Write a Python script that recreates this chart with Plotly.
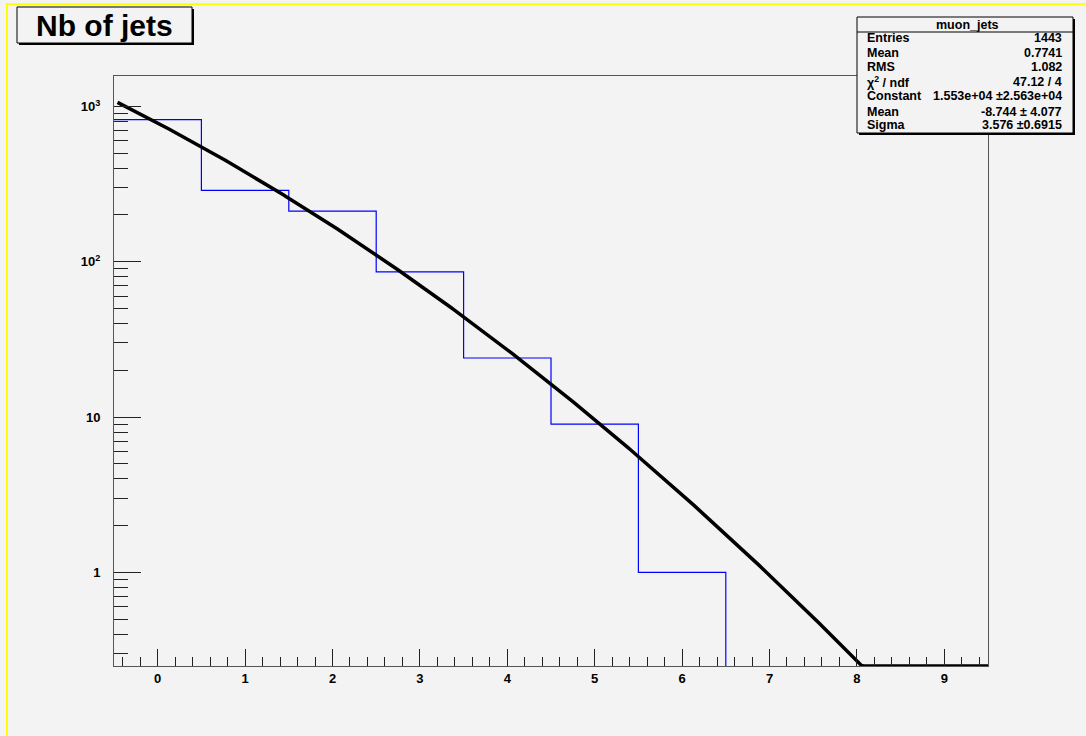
import numpy as np
import plotly.graph_objects as go

# ---- histogram contents (muon_jets) ----
bin_edges = [-0.5, 0.5, 1.5, 2.5, 3.5, 4.5, 5.5, 6.5, 7.5, 8.5, 9.5]
bin_counts = [823, 288, 212, 86, 24, 9, 1, 0, 0, 0]

# ---- gaussian fit parameters ----
fit_constant = 1.553e4
fit_mean = -8.744
fit_sigma = 3.576

# ---- statistics box ----
stats_title = "muon_jets"
stats_labels = ["Entries", "Mean", "RMS", "χ<sup>2</sup> / ndf", "Constant", "Mean", "Sigma"]
stats_values = ["1443", "0.7741", "1.082", "47.12 / 4", "1.553e+04 ±2.563e+04",
                "-8.744 ± 4.077", "3.576 ±0.6915"]

# ---- axes ----
x_range = [-0.5, 9.5]
x_major_ticks = [0, 1, 2, 3, 4, 5, 6, 7, 8, 9]
y_log_range = [-0.603, 3.196]
y_major_ticks = [1, 10, 100, 1000]
y_major_text = ["1", "10", "10<sup>2</sup>", "10<sup>3</sup>"]

W, H = 1086, 736
ML, MR, MT, MB = 114, 98, 76, 70
PW, PH = W - ML - MR, H - MT - MB
BG = "#f3f3f3"
FONT = "Liberation Sans"

def px(x):
    return (x - ML) / PW

def py(y):
    return (H - MB - y) / PH

y_floor = 10 ** y_log_range[0]

# step outline of the histogram, ending where the contents drop to zero
last = max(i for i, c in enumerate(bin_counts) if c > 0)
step_x = bin_edges[: last + 2]
step_y = bin_counts[: last + 1] + [y_floor]

# fitted gaussian, floored at the bottom of the frame
fx = np.linspace(x_range[0] + 0.04, x_range[1], 400)
fy = fit_constant * np.exp(-0.5 * ((fx - fit_mean) / fit_sigma) ** 2)
fy = np.maximum(fy, y_floor)

fig = go.Figure()
fig.add_trace(go.Scatter(x=step_x, y=step_y, mode="lines", line=dict(color="#0000ff", width=1.2, shape="hv"),
                         showlegend=False, hoverinfo="skip"))
fig.add_trace(go.Scatter(x=fx, y=fy, mode="lines", line=dict(color="#000000", width=3.5),
                         showlegend=False, hoverinfo="skip"))
# empty trace that carries the minor-tick y axis
fig.add_trace(go.Scatter(x=[None], y=[None], yaxis="y2", showlegend=False, hoverinfo="skip"))

minor_y = [m * 10 ** d for d in range(-1, 3) for m in range(2, 10)]
minor_y = [v for v in minor_y if y_log_range[0] < np.log10(v) < y_log_range[1]]

tickfont = dict(family=FONT, size=13, color="#000000", weight="bold")

fig.update_layout(
    width=W, height=H,
    margin=dict(l=ML, r=MR, t=MT, b=MB),
    paper_bgcolor=BG, plot_bgcolor=BG,
    showlegend=False,
    xaxis=dict(range=x_range, showgrid=False, zeroline=False, showline=True, mirror=True,
               linecolor="#555555", linewidth=1, ticks="inside", ticklen=17, tickwidth=1,
               tickcolor="#222222", tickvals=x_major_ticks, tickfont=tickfont,
               minor=dict(ticks="inside", ticklen=9, dtick=0.2, tick0=0, tickcolor="#222222",
                          showgrid=False)),
    yaxis=dict(type="log", range=y_log_range, showgrid=False, zeroline=False, showline=True,
               mirror=True, linecolor="#555555", linewidth=1, ticks="inside", ticklen=27,
               tickwidth=1, tickcolor="#222222", tickvals=y_major_ticks, ticktext=y_major_text,
               tickfont=tickfont, ticklabelstandoff=10),
    yaxis2=dict(type="log", range=y_log_range, overlaying="y", side="left", showgrid=False,
                zeroline=False, showline=False, ticks="inside", ticklen=14, tickwidth=1,
                tickcolor="#222222", tickvals=minor_y, showticklabels=False),
)

shapes = []
# canvas border (yellow, top and left)
shapes.append(dict(type="line", xref="paper", yref="paper", x0=px(6), x1=px(W), y0=py(4.3), y1=py(4.3),
                   line=dict(color="#ffff00", width=2)))
shapes.append(dict(type="line", xref="paper", yref="paper", x0=px(7), x1=px(7), y0=py(3.3), y1=py(H),
                   line=dict(color="#ffff00", width=2)))

def boxed(x0, y0, x1, y1, header_y=None):
    out = [dict(type="rect", xref="paper", yref="paper", x0=px(x0 + 2), x1=px(x1 + 2), y0=py(y0 + 2),
                y1=py(y1 + 2), fillcolor="#000000", line=dict(width=0), layer="above"),
           dict(type="rect", xref="paper", yref="paper", x0=px(x0), x1=px(x1), y0=py(y0), y1=py(y1),
                fillcolor=BG, line=dict(color="#000000", width=1), layer="above")]
    if header_y is not None:
        out.append(dict(type="line", xref="paper", yref="paper", x0=px(x0), x1=px(x1), y0=py(header_y),
                        y1=py(header_y), line=dict(color="#000000", width=1), layer="above"))
    return out

shapes += boxed(17, 7, 192, 43)
shapes += boxed(857, 17, 1073, 133, header_y=32)
fig.update_layout(shapes=shapes)

ann = []
ann.append(dict(text="Nb of jets", xref="paper", yref="paper", x=px(104.5), y=py(25.5), showarrow=False,
                xanchor="center", yanchor="middle", font=dict(family=FONT, size=30, color="#000000", weight="bold")))
sf = dict(family=FONT, size=12.5, color="#000000", weight="bold")
ann.append(dict(text=stats_title, xref="paper", yref="paper", x=px(967), y=py(24.5), showarrow=False,
                xanchor="center", yanchor="middle", font=sf))
row_y = [37.7, 52.7, 67.3, 81.7, 96.5, 111.5, 125.5]
for lab, val, yy in zip(stats_labels, stats_values, row_y):
    ann.append(dict(text=lab, xref="paper", yref="paper", x=px(865), y=py(yy), showarrow=False,
                    xanchor="left", yanchor="middle", font=sf))
    ann.append(dict(text=val, xref="paper", yref="paper", x=px(1064), y=py(yy), showarrow=False,
                    xanchor="right", yanchor="middle", font=sf))
fig.update_layout(annotations=ann)

fig.write_html("out.html")
